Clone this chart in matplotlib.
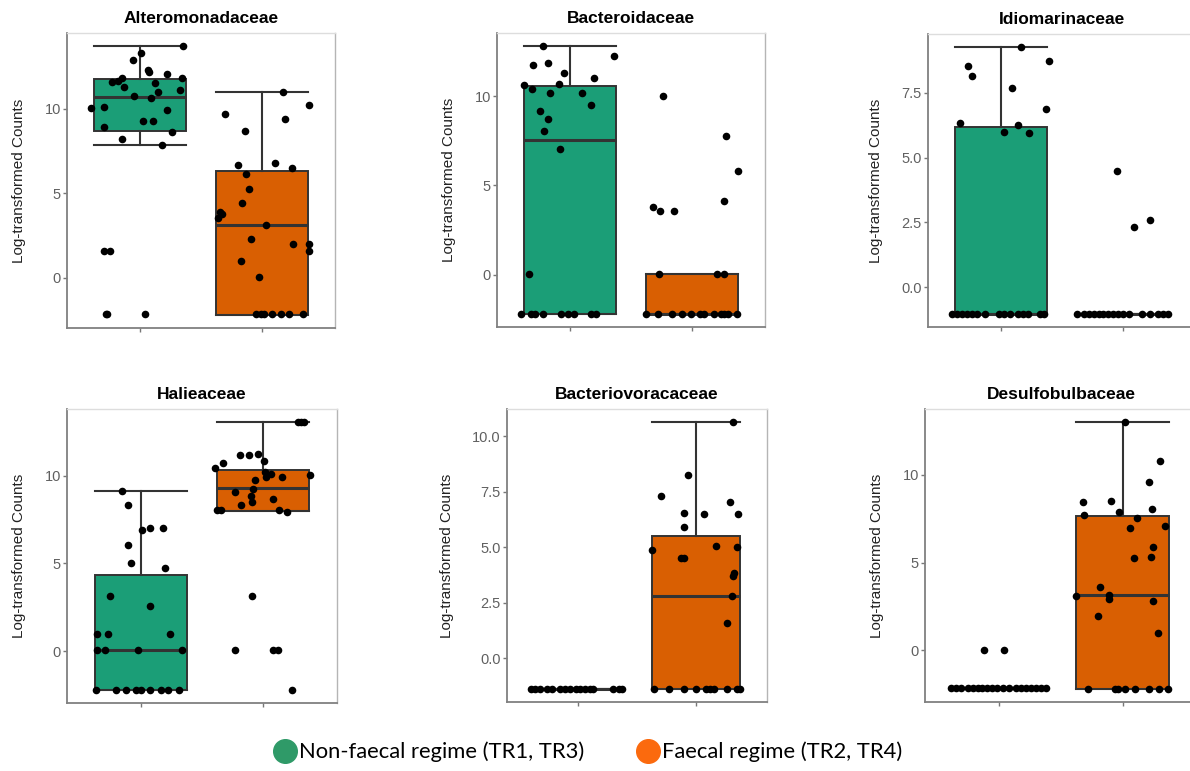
import numpy as np
import matplotlib
matplotlib.use("Agg")
import matplotlib.pyplot as plt
from matplotlib.lines import Line2D
from matplotlib.ticker import FormatStrFormatter

families = ["Alteromonadaceae", "Bacteroidaceae", "Idiomarinaceae",
            "Halieaceae", "Bacteriovoracaceae", "Desulfobulbaceae"]
group_names = ["Non-faecal regime (TR1, TR3)", "Faecal regime (TR2, TR4)"]

# box stats: q1, median, q3, lower whisker, upper whisker
# jittered points: value + horizontal jitter (category units)
alt_non_y = [13.67, 13.28, 12.89, 12.30, 12.14, 12.06, 11.79, 11.59, 11.60, 11.83,
             11.26, 11.51, 11.12, 10.96, 10.73, 10.65, 10.04, 10.08, 9.94, 9.25,
             9.25, 8.90, 8.64, 8.23, 7.84, 1.59, 1.59, -2.14, -2.14, -2.14]
alt_non_dx = [0.35, 0.005, -0.06, 0.065, 0.07, 0.22, 0.34, -0.23, -0.18, -0.15,
              -0.135, 0.12, 0.33, 0.15, -0.05, 0.09, -0.40, -0.30, 0.22, 0.02,
              0.11, -0.30, 0.26, -0.145, 0.18, -0.30, -0.245, -0.28, -0.27, 0.04]
alt_fae_y = [10.96, 10.22, 9.67, 9.41, 8.68, 6.66, 6.76, 6.48, 6.13, 5.23,
             4.44, 3.91, 3.79, 3.56, 3.14, 2.32, 1.98, 1.98, 1.59, 1.00,
             0.08, -2.14, -2.14, -2.14, -2.14, -2.14, -2.14, -2.14]
alt_fae_dx = [0.17, 0.39, -0.30, 0.19, -0.14, -0.20, 0.11, 0.25, -0.13, -0.11,
              -0.16, -0.34, -0.33, -0.36, 0.035, -0.09, 0.255, 0.39, 0.39, -0.17,
              -0.02, -0.05, -0.01, 0.02, 0.08, 0.16, 0.22, 0.34]
alt_non_box = [8.68, 10.69, 11.75, 7.86, 13.67]
alt_fae_box = [-2.16, 3.12, 6.29, -2.16, 10.96]

bac_non_y = [12.78, 11.76, 11.86, 11.30, 11.00, 12.23, 10.61, 10.41, 10.65, 10.19,
             10.19, 9.48, 9.17, 8.70, 8.05, 7.03, 0.06,
             -2.17, -2.17, -2.17, -2.17, -2.17, -2.17, -2.17, -2.17, -2.17]
bac_non_dx = [-0.225, -0.305, -0.18, -0.05, 0.195, 0.36, -0.38, -0.315, -0.09, -0.165,
              0.10, 0.17, -0.245, -0.185, -0.215, -0.085, -0.335,
              -0.40, -0.32, -0.29, -0.225, -0.075, -0.02, 0.03, 0.17, 0.21]
bac_fae_y = [9.98, 7.79, 5.79, 3.78, 3.56, 3.56, 4.14, 0.04, 0.06, 0.06,
             -2.17, -2.17, -2.17, -2.17, -2.17, -2.17, -2.17, -2.17, -2.17, -2.17, -2.17, -2.17]
bac_fae_dx = [-0.24, 0.28, 0.38, -0.32, -0.265, -0.15, 0.26, -0.27, 0.21, 0.26,
              -0.38, -0.28, -0.16, -0.08, -0.01, 0.07, 0.10, 0.18, 0.24, 0.26, 0.30, 0.37]
bac_non_box = [-2.17, 7.55, 10.56, -2.17, 12.78]
bac_fae_box = [-2.17, -2.17, 0.06, -2.17, 0.06]

idi_non_y = [9.26, 8.75, 8.52, 8.14, 7.69, 6.88, 6.32, 6.26, 5.98, 5.95,
             -1.02, -1.02, -1.02, -1.02, -1.02, -1.02, -1.02, -1.02, -1.02, -1.02,
             -1.02, -1.02, -1.02, -1.02, -1.02]
idi_non_dx = [0.16, 0.39, -0.27, -0.24, 0.09, 0.365, -0.34, 0.14, 0.02, 0.23,
              -0.405, -0.36, -0.32, -0.28, -0.24, -0.20, -0.13, -0.02, 0.02, 0.07,
              0.14, 0.18, 0.22, 0.32, 0.35]
idi_fae_y = [4.50, 2.31, 2.58,
             -1.02, -1.02, -1.02, -1.02, -1.02, -1.02, -1.02, -1.02,
             -1.02, -1.02, -1.02, -1.02, -1.02, -1.02, -1.02, -1.02]
idi_fae_dx = [-0.05, 0.09, 0.225,
              -0.38, -0.32, -0.28, -0.24, -0.20, -0.16, -0.12, -0.08,
              -0.04, 0.0, 0.05, 0.16, 0.22, 0.29, 0.33, 0.37]
idi_non_box = [-1.02, -1.02, 6.19, -1.02, 9.26]
idi_fae_box = [-1.02, -1.02, -1.02, -1.02, -1.02]

hal_non_y = [9.13, 8.31, 6.88, 7.01, 6.99, 6.06, 5.00, 4.73, 3.16, 2.58,
             1.00, 1.00, 1.00, 0.06, 0.06, 0.06, 0.06,
             -2.18, -2.18, -2.18, -2.18, -2.18, -2.18, -2.18, -2.18, -2.18]
hal_non_dx = [-0.155, -0.10, 0.01, 0.08, 0.18, -0.10, -0.075, 0.195, -0.25, 0.08,
              -0.355, -0.265, 0.24, -0.355, -0.29, -0.02, 0.34,
              -0.365, -0.20, -0.12, -0.035, 0.005, 0.08, 0.17, 0.225, 0.31]
hal_fae_y = [13.03, 13.03, 13.03, 11.19, 11.19, 11.23, 10.74, 10.85, 10.42, 10.21,
             10.11, 9.90, 9.75, 9.94, 10.02, 9.26, 9.05, 8.84, 8.67, 8.33,
             8.52, 8.05, 8.05, 8.03, 7.95, 3.16, 0.06, 0.06, 0.06, -2.18]
hal_fae_dx = [0.28, 0.31, 0.33, -0.19, -0.12, -0.045, -0.325, 0.005, -0.39, 0.013,
              0.06, 0.02, -0.065, 0.155, 0.376, -0.085, -0.235, -0.10, 0.075, -0.18,
              -0.09, -0.375, -0.345, 0.125, 0.19, -0.095, -0.235, 0.075, 0.12, 0.235]
hal_non_box = [-2.18, 0.08, 4.36, -2.18, 9.13]
hal_fae_box = [7.99, 9.28, 10.32, 7.99, 13.03]

bvo_non_y = [-1.36, -1.36, -1.36, -1.36, -1.36, -1.36, -1.36, -1.36,
             -1.36, -1.36, -1.36, -1.36, -1.36, -1.36, -1.36, -1.36]
bvo_non_dx = [-0.40, -0.36, -0.32, -0.26, -0.22, -0.15, -0.11, -0.065,
              -0.02, 0.02, 0.06, 0.105, 0.13, 0.30, 0.345, 0.37]
bvo_fae_y = [10.63, 8.28, 7.31, 7.04, 6.56, 6.50, 6.49, 5.93, 4.90, 5.08,
             5.00, 4.53, 4.53, 3.84, 3.69, 2.80, 1.60,
             -1.36, -1.36, -1.36, -1.36, -1.36, -1.36, -1.36, -1.36, -1.36, -1.36]
bvo_fae_dx = [0.31, -0.07, -0.30, 0.285, -0.105, 0.07, 0.355, -0.105, -0.375, 0.165,
              0.35, -0.13, -0.10, 0.32, 0.315, 0.30, 0.265,
              -0.36, -0.23, -0.105, 0.0, 0.08, 0.12, 0.15, 0.265, 0.35, 0.375]
bvo_non_box = [-1.36, -1.36, -1.36, -1.36, -1.36]
bvo_fae_box = [-1.36, 2.80, 5.53, -1.36, 10.63]

des_non_y = [0.04, 0.04,
             -2.16, -2.16, -2.16, -2.16, -2.16, -2.16, -2.16, -2.16, -2.16, -2.16,
             -2.16, -2.16, -2.16, -2.16, -2.16, -2.16, -2.16, -2.16, -2.16]
des_non_dx = [-0.12, 0.04,
              -0.39, -0.35, -0.31, -0.255, -0.215, -0.175, -0.135, -0.095, -0.055, -0.015,
              0.027, 0.08, 0.135, 0.175, 0.215, 0.255, 0.295, 0.335, 0.375]
des_fae_y = [13.0, 10.8, 9.62, 8.44, 8.54, 8.06, 7.91, 7.72, 7.57, 7.00,
             7.10, 5.92, 5.26, 5.31, 3.64, 3.13, 3.17, 2.94, 2.81, 1.94, 1.00,
             -2.18, -2.18, -2.18, -2.18, -2.18, -2.18, -2.18, -2.18]
des_fae_dx = [0.02, 0.30, 0.215, -0.32, -0.095, 0.24, -0.03, -0.315, 0.115, 0.06,
              0.34, 0.245, 0.09, 0.225, -0.185, -0.375, -0.11, -0.11, 0.245, -0.20, 0.285,
              -0.28, -0.06, -0.04, 0.02, 0.095, 0.21, 0.29, 0.365]
des_non_box = [-2.16, -2.16, -2.16, -2.16, -2.16]
des_fae_box = [-2.18, 3.17, 7.67, -2.18, 13.0]

tick_sets = [[0, 5, 10], [0, 5, 10], [0, 2.5, 5, 7.5],
             [0, 5, 10], [0, 2.5, 5, 7.5, 10], [0, 5, 10]]

panels = [
    (alt_non_y, alt_non_dx, alt_fae_y, alt_fae_dx, alt_non_box, alt_fae_box),
    (bac_non_y, bac_non_dx, bac_fae_y, bac_fae_dx, bac_non_box, bac_fae_box),
    (idi_non_y, idi_non_dx, idi_fae_y, idi_fae_dx, idi_non_box, idi_fae_box),
    (hal_non_y, hal_non_dx, hal_fae_y, hal_fae_dx, hal_non_box, hal_fae_box),
    (bvo_non_y, bvo_non_dx, bvo_fae_y, bvo_fae_dx, bvo_non_box, bvo_fae_box),
    (des_non_y, des_non_dx, des_fae_y, des_fae_dx, des_non_box, des_fae_box),
]

box_colors = ["#1b9e77", "#d95f02"]
legend_colors = ["#2f9a68", "#fb6a0e"]
edge = "#333333"

# axes rectangles in pixels: left, top, right, bottom
W, H = 1190, 771
rects = [(67, 33, 335, 328), (497, 33, 765, 327), (928, 34, 1196, 327),
         (67, 409, 337, 703), (507, 409, 767, 702), (925, 409, 1197, 702)]

plt.rcParams['font.family'] = ['Liberation Sans', 'DejaVu Sans']
fig = plt.figure(figsize=(W / 100, H / 100), dpi=100)
fig.patch.set_facecolor('white')

for i, (name, data, ticks) in enumerate(zip(families, panels, tick_sets)):
    l, t, r, b = rects[i]
    ax = fig.add_axes([l / W, 1 - b / H, (r - l) / W, (b - t) / H])
    non_y, non_dx, fae_y, fae_dx, non_box, fae_box = data

    stats = []
    for bx in (non_box, fae_box):
        stats.append(dict(q1=bx[0], med=bx[1], q3=bx[2], whislo=bx[3], whishi=bx[4]))
    bp = ax.bxp(stats, positions=[1, 2], widths=0.75, capwidths=0.75,
                patch_artist=True, showfliers=False,
                boxprops=dict(edgecolor=edge, linewidth=1.4),
                medianprops=dict(color=edge, linewidth=2.2),
                whiskerprops=dict(color=edge, linewidth=1.5),
                capprops=dict(color=edge, linewidth=1.5))
    for patch, c in zip(bp['boxes'], box_colors):
        patch.set_facecolor(c)

    ax.scatter(1 + np.array(non_dx), non_y, s=30, color='black', linewidths=0, zorder=4)
    ax.scatter(2 + np.array(fae_dx), fae_y, s=30, color='black', linewidths=0, zorder=4)

    ax.set_xlim(0.4, 2.6)
    ax.margins(y=0.05)
    ax.autoscale(axis='y')
    ax.set_xticks([1, 2])
    ax.set_xticklabels(['', ''])
    ax.set_yticks(ticks)
    if any(v % 1 for v in ticks):
        ax.yaxis.set_major_formatter(FormatStrFormatter('%.1f'))
    else:
        ax.yaxis.set_major_formatter(FormatStrFormatter('%d'))
    ax.tick_params(axis='both', length=3, width=1, color='#777777',
                   labelcolor='#606060', labelsize=10.5, pad=1.5)

    ax.set_title(name, fontsize=12.5, fontweight='bold', pad=7)
    ax.set_ylabel('Log-transformed Counts', fontsize=11, labelpad=13, color='#222222')

    for side in ('left', 'bottom'):
        ax.spines[side].set_color('#808080')
        ax.spines[side].set_linewidth(1.3)
    ax.spines['right'].set_color('#b5b5b5')
    ax.spines['top'].set_color('#dddddd')
    for side in ('top', 'right'):
        ax.spines[side].set_linewidth(1.0)

handles = [Line2D([], [], marker='o', ls='', markersize=17,
                  markerfacecolor=c, markeredgecolor=c) for c in legend_colors]
fig.legend(handles, group_names, loc='center', bbox_to_anchor=(588 / W, 1 - 752 / H),
           ncol=2, frameon=False, prop={'family': 'Lato', 'size': 15.8},
           handletextpad=0.15, columnspacing=2.4, handlelength=1.0)

fig.savefig('out.png', dpi=100)
